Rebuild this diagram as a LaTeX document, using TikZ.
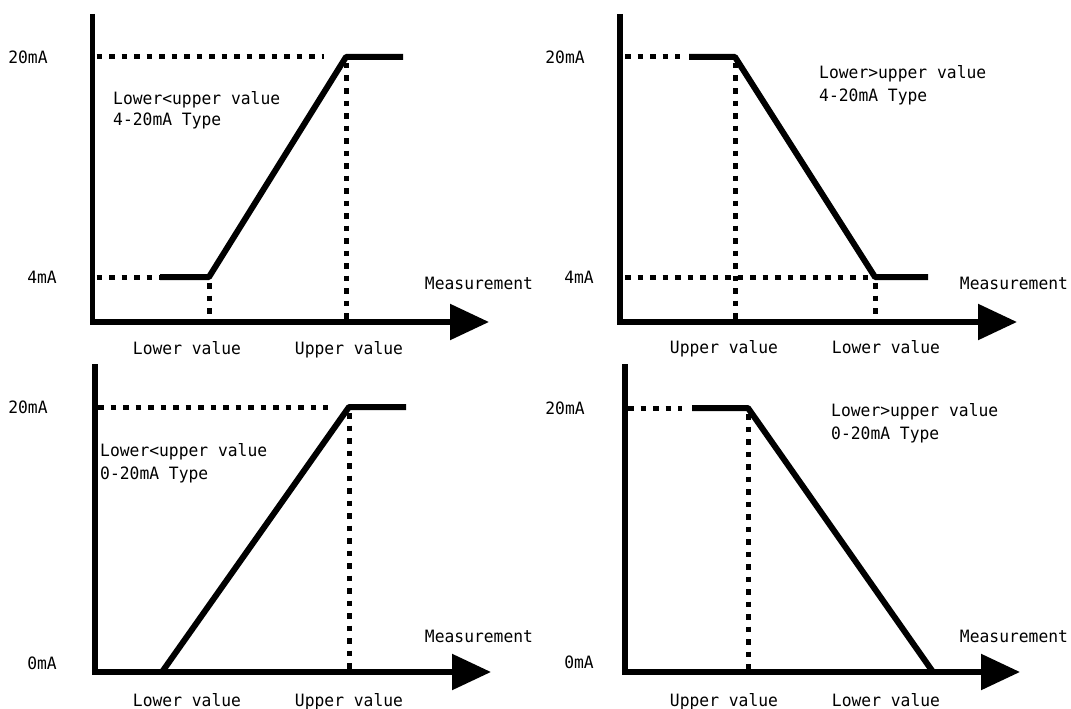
\documentclass[tikz,border=0pt]{standalone}
\usepackage{fontspec}
\setmonofont[FakeStretch=0.96]{DejaVu Sans Mono}
\usetikzlibrary{arrows.meta}
\begin{document}
\begin{tikzpicture}[x=1pt,y=-1pt,
  axis line/.style={line width=5.5pt,line join=miter,-{Triangle[length=39pt,width=35pt]}},
  curve line/.style={line width=6pt,line join=round},
  dot line/.style={line width=5pt,dash pattern=on 5.5pt off 7pt},
  txt node/.style={font=\ttfamily\fontsize{17}{20}\selectfont,inner sep=0pt,
    text height=12.4pt,text depth=0pt}]

  \useasboundingbox (0,0) rectangle (1071,709);

  % top left: lower < upper, 4-20mA
  \coordinate (a0) at (92.5,322);
  \coordinate (ay) at (92.5,14);
  \coordinate (ax) at (489,322);
  \coordinate (a1) at (96.5,57);
  \coordinate (a2) at (324,57);
  \coordinate (a3) at (346,57);
  \coordinate (a4) at (403,57);
  \coordinate (a5) at (209,277);
  \coordinate (a6) at (160,277);
  \coordinate (a7) at (96.5,277);

  \draw[axis line] (ay) -- (a0) -- (ax);
  \draw[dot line] (a1) -- (a2);
  \draw[dot line] (a7) -- (a6);
  \draw[dot line] ([yshift=-6pt]a5) -- (a5 |- a0);
  \draw[dot line] ([yshift=-6pt]a3) -- (a3 |- a0);
  \draw[curve line] (a6) -- (a5) -- (a3) -- (a4);

  \node[txt node] (a20) at (28,57) {20mA};
  \node[txt node] (a4m) at (42,277) {4mA};
  \node[txt node,anchor=west] (at1) at (113,98) {Lower<upper value};
  \node[txt node,anchor=west] (at2) at (113,119) {4-20mA Type};
  \node[txt node] (alo) at (187,348) {Lower value};
  \node[txt node] (aup) at (349,348) {Upper value};
  \node[txt node] (ame) at (479,283) {Measurement};

  % top right: lower > upper, 4-20mA
  \coordinate (b0) at (620,322);
  \coordinate (by) at (620,14);
  \coordinate (bx) at (1017,322);
  \coordinate (b1) at (625,57);
  \coordinate (b2) at (680,57);
  \coordinate (b3) at (689,57);
  \coordinate (b4) at (735,57);
  \coordinate (b5) at (875,277);
  \coordinate (b6) at (928,277);
  \coordinate (b7) at (625,277);

  \draw[axis line] (by) -- (b0) -- (bx);
  \draw[dot line] (b1) -- (b2);
  \draw[dot line] (b7) -- (b5);
  \draw[dot line] ([yshift=-6pt]b4) -- (b4 |- b0);
  \draw[dot line] ([yshift=-6pt]b5) -- (b5 |- b0);
  \draw[curve line] (b3) -- (b4) -- (b5) -- (b6);

  \node[txt node] (b20) at (565,57) {20mA};
  \node[txt node] (b4m) at (579,277) {4mA};
  \node[txt node,anchor=west] (bt1) at (819,72) {Lower>upper value};
  \node[txt node,anchor=west] (bt2) at (819,95) {4-20mA Type};
  \node[txt node] (bup) at (724,347) {Upper value};
  \node[txt node] (blo) at (886,347) {Lower value};
  \node[txt node] (bme) at (1014,283) {Measurement};

  % bottom left: lower < upper, 0-20mA
  \coordinate (c0) at (95,672);
  \coordinate (cy) at (95,364);
  \coordinate (cx) at (491,672);
  \coordinate (c1) at (98,407);
  \coordinate (c2) at (328,407);
  \coordinate (c3) at (349,407);
  \coordinate (c4) at (406,407);
  \coordinate (c5) at (162,672);

  \draw[axis line] (cy) -- (c0) -- (cx);
  \draw[dot line] (c1) -- (c2);
  \draw[dot line] ([yshift=-6pt]c3) -- (c3 |- c0);
  \draw[curve line] (c5) -- (c3) -- (c4);

  \node[txt node] (c20) at (28,407) {20mA};
  \node[txt node] (c0m) at (42,663) {0mA};
  \node[txt node,anchor=west] (ct1) at (100,450) {Lower<upper value};
  \node[txt node,anchor=west] (ct2) at (100,473) {0-20mA Type};
  \node[txt node] (clo) at (187,700) {Lower value};
  \node[txt node] (cup) at (349,700) {Upper value};
  \node[txt node] (cme) at (479,636) {Measurement};

  % bottom right: lower > upper, 0-20mA
  \coordinate (d0) at (625,672);
  \coordinate (dy) at (625,364);
  \coordinate (dx) at (1020,672);
  \coordinate (d1) at (628,408);
  \coordinate (d2) at (682,408);
  \coordinate (d3) at (692,408);
  \coordinate (d4) at (748,408);
  \coordinate (d5) at (933,672);

  \draw[axis line] (dy) -- (d0) -- (dx);
  \draw[dot line] (d1) -- (d2);
  \draw[dot line] ([yshift=-6pt]d4) -- (d4 |- d0);
  \draw[curve line] (d3) -- (d4) -- (d5);

  \node[txt node] (d20) at (565,408) {20mA};
  \node[txt node] (d0m) at (579,662) {0mA};
  \node[txt node,anchor=west] (dt1) at (831,410) {Lower>upper value};
  \node[txt node,anchor=west] (dt2) at (831,433) {0-20mA Type};
  \node[txt node] (dup) at (724,700) {Upper value};
  \node[txt node] (dlo) at (886,700) {Lower value};
  \node[txt node] (dme) at (1014,636) {Measurement};
\end{tikzpicture}
\end{document}
